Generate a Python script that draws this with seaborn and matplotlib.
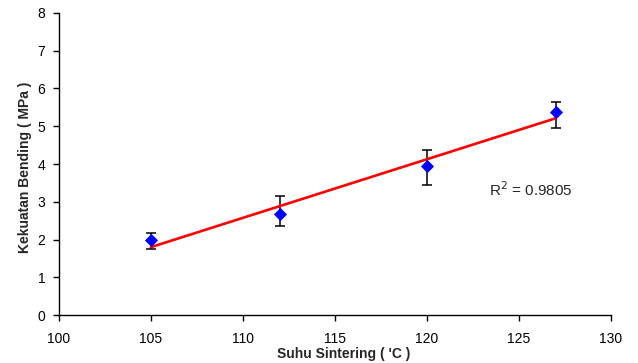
import matplotlib

matplotlib.use("Agg")
import matplotlib.pyplot as plt
import numpy as np
import pandas as pd
import seaborn as sns

# data
suhu = [105, 112, 120, 127]
kekuatan = [1.99, 2.68, 3.96, 5.39]
err_bawah = [0.23, 0.32, 0.52, 0.43]
err_atas = [0.17, 0.47, 0.40, 0.26]
r2_text = "R$^2$ = 0.9805"

x_ticks = [100, 105, 110, 115, 120, 125, 130]
y_ticks = [0, 1, 2, 3, 4, 5, 6, 7, 8]

df = pd.DataFrame({"suhu": suhu, "kekuatan": kekuatan})

sns.set_style("ticks")
plt.rcParams["font.family"] = ["Liberation Sans", "DejaVu Sans"]

fig = plt.figure(figsize=(6.38, 3.63), dpi=100)
ax = fig.add_axes([0.0925, 0.1322, 0.865, 0.832])

# error bars
ax.errorbar(
    df["suhu"],
    df["kekuatan"],
    yerr=[err_bawah, err_atas],
    fmt="none",
    ecolor="black",
    elinewidth=1.1,
    capsize=3.6,
    capthick=1.1,
    zorder=2,
)

# linear trendline
sns.regplot(
    data=df,
    x="suhu",
    y="kekuatan",
    scatter=False,
    ci=None,
    color="red",
    line_kws={"lw": 1.9, "zorder": 3},
    ax=ax,
)

sns.scatterplot(
    data=df,
    x="suhu",
    y="kekuatan",
    marker="D",
    s=45,
    color="#0000FF",
    edgecolor="#0000FF",
    linewidth=0,
    zorder=4,
    ax=ax,
)

ax.set_xlim(100, 130)
ax.set_ylim(0, 8)
ax.set_xticks(x_ticks)
ax.set_yticks(y_ticks)
ax.tick_params(direction="out", length=4, width=1, labelsize=10, colors="black")
ax.tick_params(axis="x", pad=8.5)
ax.tick_params(axis="y", pad=6)
for side in ["left", "bottom"]:
    ax.spines[side].set_color("black")
    ax.spines[side].set_linewidth(1)
sns.despine(ax=ax)

ax.set_xlabel("Suhu Sintering ( 'C )", fontsize=10, fontweight="bold", va="center")
ax.xaxis.set_label_coords(0.516, -0.128)
ax.set_ylabel("Kekuatan Bending ( MPa )", fontsize=10, fontweight="bold", va="center")
ax.yaxis.set_label_coords(-0.0616, 0.49)

ax.text(123.4, 3.31, r2_text, fontsize=11, va="center", ha="left")

plt.savefig("out.png", dpi=100)
